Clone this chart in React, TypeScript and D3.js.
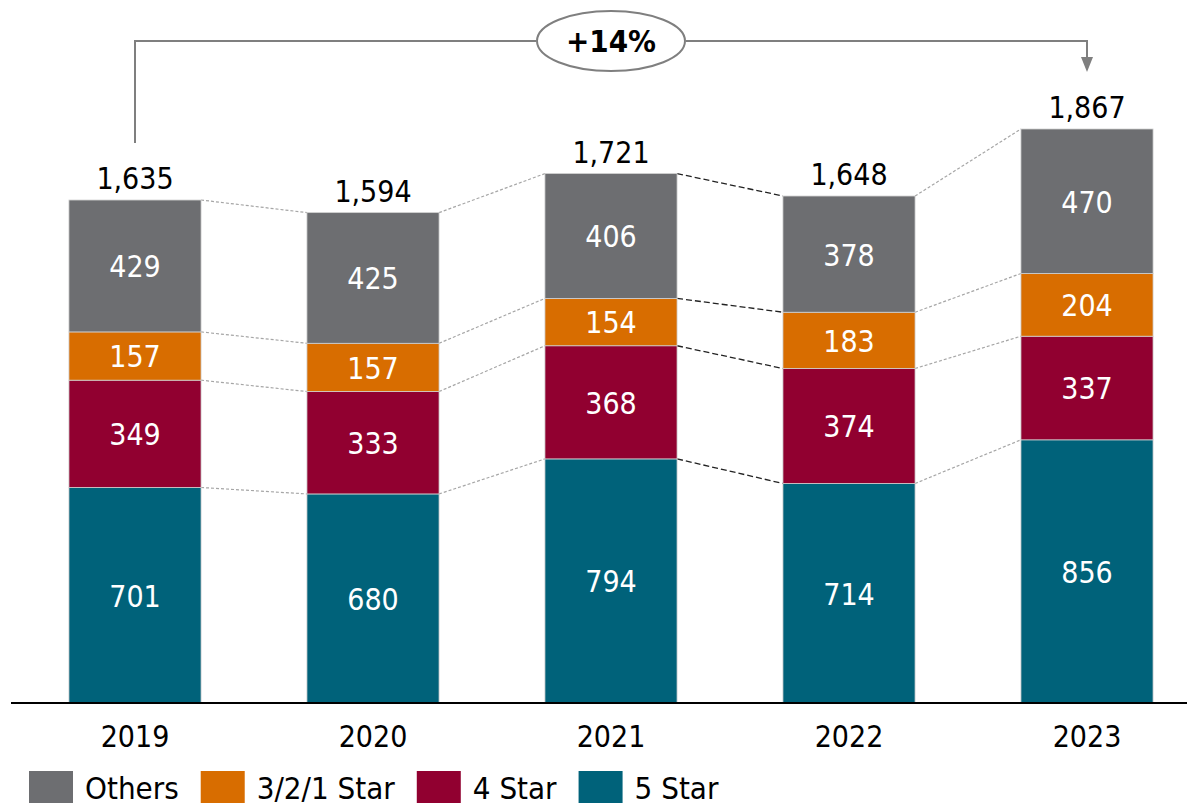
import React, { useEffect, useRef } from 'react';
import * as d3 from 'd3';

const years = ['2019', '2020', '2021', '2022', '2023'];
const seriesNames = ['5 Star', '4 Star', '3/2/1 Star', 'Others'];
const fiveStar = [701, 680, 794, 714, 856];
const fourStar = [349, 333, 368, 374, 337];
const lowStar = [157, 157, 154, 183, 204];
const others = [429, 425, 406, 378, 470];
const totals = [1635, 1594, 1721, 1648, 1867];
const legendOrder = ['Others', '3/2/1 Star', '4 Star', '5 Star'];
const growthLabel = '+14%';
const darkLinkFrom = ['2021'];

const colors: Record<string, string> = {
  '5 Star': '#00627a',
  '4 Star': '#910030',
  '3/2/1 Star': '#d86d00',
  'Others': '#6d6e71',
};

const FONT = '"DejaVu Sans Condensed", "DejaVu Sans", sans-serif';

const App = () => {
  const svgRef = useRef<SVGSVGElement>(null);

  useEffect(() => {
    document.body.style.margin = '0';
    const W = 1187;
    const H = 803;
    const svg = d3.select(svgRef.current).attr('width', W).attr('height', H);
    svg.selectAll('*').remove();

    const rows = years.map((y, i) => ({
      year: y,
      '5 Star': fiveStar[i],
      '4 Star': fourStar[i],
      '3/2/1 Star': lowStar[i],
      'Others': others[i],
    }));
    const stacked = d3.stack<any>().keys(seriesNames)(rows);

    const x = d3.scaleBand().domain(years).range([16, 1206]).paddingInner(0.445).paddingOuter(0.2225);
    const y = d3.scaleLinear().domain([0, d3.max(totals)!]).range([703, 129]);
    const bw = x.bandwidth();

    // connector lines between bars
    const links = svg.append('g');
    stacked.forEach(layer => {
      layer.forEach((d, i) => {
        if (i === years.length - 1) return;
        const next = layer[i + 1];
        const dark = darkLinkFrom.includes(years[i]);
        links.append('line')
          .attr('x1', x(years[i])! + bw)
          .attr('x2', x(years[i + 1])!)
          .attr('y1', y(d[1]))
          .attr('y2', y(next[1]))
          .attr('stroke', dark ? '#222' : '#a6a6a6')
          .attr('stroke-width', dark ? 1.3 : 1.2)
          .attr('stroke-dasharray', dark ? '6,3' : '3,2');
      });
    });

    // bars
    stacked.forEach(layer => {
      const g = svg.append('g');
      g.selectAll('rect')
        .data(layer)
        .enter()
        .append('rect')
        .attr('x', (d: any) => x(d.data.year)!)
        .attr('y', d => y(d[1]))
        .attr('width', bw)
        .attr('height', d => y(d[0]) - y(d[1]))
        .attr('fill', colors[layer.key])
        .attr('stroke', '#d0d0d0')
        .attr('stroke-width', 0.8);
      g.selectAll('text')
        .data(layer)
        .enter()
        .append('text')
        .attr('x', (d: any) => x(d.data.year)! + bw / 2)
        .attr('y', d => (y(d[0]) + y(d[1])) / 2)
        .attr('dy', '0.38em')
        .attr('text-anchor', 'middle')
        .attr('fill', 'white')
        .style('font-family', FONT)
        .style('font-size', '30px')
        .text((d: any) => d.data[layer.key]);
    });

    // totals
    svg.append('g').selectAll('text')
      .data(totals)
      .enter()
      .append('text')
      .attr('x', (d, i) => x(years[i])! + bw / 2)
      .attr('y', d => y(d) - 11)
      .attr('text-anchor', 'middle')
      .attr('fill', 'black')
      .style('font-family', FONT)
      .style('font-size', '30px')
      .text(d => d3.format(',')(d));

    // baseline axis
    svg.append('line')
      .attr('x1', 11).attr('x2', W)
      .attr('y1', y(0)).attr('y2', y(0))
      .attr('stroke', 'black').attr('stroke-width', 2);

    // year labels
    svg.append('g').selectAll('text')
      .data(years)
      .enter()
      .append('text')
      .attr('x', d => x(d)! + bw / 2)
      .attr('y', 747)
      .attr('text-anchor', 'middle')
      .style('font-family', FONT)
      .style('font-size', '30px')
      .text(d => d);

    // growth annotation
    const x0 = x(years[0])! + bw / 2;
    const x1 = x(years[years.length - 1])! + bw / 2;
    const cx = 611;
    const topY = 41;
    const annColor = '#7f7f7f';
    svg.append('path')
      .attr('d', `M${x0},143 V${topY} H${cx - 75}`)
      .attr('fill', 'none').attr('stroke', annColor).attr('stroke-width', 2);
    svg.append('path')
      .attr('d', `M${cx + 75},${topY} H${x1} V60`)
      .attr('fill', 'none').attr('stroke', annColor).attr('stroke-width', 2);
    svg.append('path')
      .attr('d', `M${x1 - 6},57 L${x1 + 6},57 L${x1},72 Z`)
      .attr('fill', annColor);
    svg.append('ellipse')
      .attr('cx', cx).attr('cy', topY)
      .attr('rx', 74).attr('ry', 30)
      .attr('fill', 'white').attr('stroke', annColor).attr('stroke-width', 2);
    svg.append('text')
      .attr('x', cx).attr('y', topY)
      .attr('dy', '0.36em')
      .attr('text-anchor', 'middle')
      .style('font-family', FONT)
      .style('font-size', '31px')
      .style('font-weight', 'bold')
      .text(growthLabel);

    // legend
    const legend = svg.append('g');
    let lx = 29;
    legendOrder.forEach(name => {
      legend.append('rect')
        .attr('x', lx).attr('y', 771)
        .attr('width', 44).attr('height', 44)
        .attr('fill', colors[name]);
      const t = legend.append('text')
        .attr('x', lx + 56).attr('y', 799)
        .style('font-family', FONT)
        .style('font-size', '31px')
        .text(name);
      const len = (t.node() as SVGTextElement).getComputedTextLength();
      lx = lx + 56 + len + 22;
    });
  }, []);

  return <svg ref={svgRef} style={{ display: 'block' }}></svg>;
};

export default App;
